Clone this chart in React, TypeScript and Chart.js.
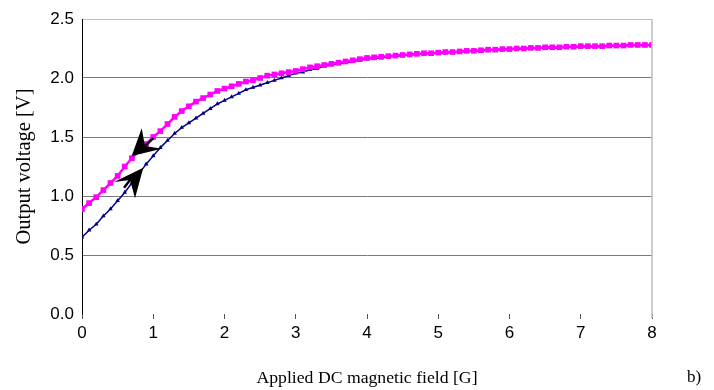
import React, { useEffect, useRef } from "react";
import { Chart, registerables } from "chart.js";

Chart.register(...registerables);

const fieldG = [
  0, 0.1, 0.2, 0.3, 0.4, 0.5, 0.6, 0.7, 0.8, 0.9,
  1, 1.1, 1.2, 1.3, 1.4, 1.5, 1.6, 1.7, 1.8, 1.9,
  2, 2.1, 2.2, 2.3, 2.4, 2.5, 2.6, 2.7, 2.8, 2.9,
  3, 3.1, 3.2, 3.3, 3.4, 3.5, 3.6, 3.7, 3.8, 3.9,
  4, 4.1, 4.2, 4.3, 4.4, 4.5, 4.6, 4.7, 4.8, 4.9,
  5, 5.1, 5.2, 5.3, 5.4, 5.5, 5.6, 5.7, 5.8, 5.9,
  6, 6.1, 6.2, 6.3, 6.4, 6.5, 6.6, 6.7, 6.8, 6.9,
  7, 7.1, 7.2, 7.3, 7.4, 7.5, 7.6, 7.7, 7.8, 7.9,
  8,
];

// decreasing field sweep (upper, magenta)
const downSweepV = [
  0.89, 0.94, 0.99, 1.05, 1.11, 1.17, 1.25, 1.32, 1.38, 1.44,
  1.5, 1.55, 1.61, 1.67, 1.72, 1.76, 1.8, 1.83, 1.86, 1.89,
  1.91, 1.93, 1.95, 1.97, 1.98, 2.0, 2.02, 2.03, 2.04, 2.05,
  2.06, 2.075, 2.09, 2.1, 2.11, 2.12, 2.13, 2.14, 2.15, 2.16,
  2.17, 2.175, 2.18, 2.185, 2.19, 2.195, 2.2, 2.205, 2.21, 2.21,
  2.215, 2.22, 2.22, 2.225, 2.23, 2.23, 2.235, 2.24, 2.24, 2.245,
  2.245, 2.25, 2.25, 2.255, 2.255, 2.26, 2.26, 2.26, 2.265, 2.265,
  2.27, 2.27, 2.27, 2.27, 2.275, 2.275, 2.275, 2.28, 2.28, 2.28,
  2.28,
];

// increasing field sweep (lower, navy)
const upSweepV = [
  0.65, 0.71, 0.76, 0.83, 0.89, 0.96, 1.03, 1.11, 1.19, 1.27,
  1.34, 1.41, 1.47, 1.53, 1.58, 1.62, 1.66, 1.7, 1.74, 1.78,
  1.81, 1.84, 1.87, 1.9, 1.92, 1.94, 1.96, 1.98, 2.0, 2.02,
  2.04, 2.05, 2.07, 2.08, 2.1, 2.11, 2.12, 2.13, 2.14, 2.15,
  2.16, 2.165, 2.17, 2.18, 2.185, 2.19, 2.195, 2.2, 2.205, 2.205,
  2.21, 2.215, 2.215, 2.22, 2.225, 2.225, 2.23, 2.235, 2.235, 2.24,
  2.24, 2.245, 2.245, 2.25, 2.25, 2.255, 2.255, 2.255, 2.26, 2.26,
  2.265, 2.265, 2.265, 2.265, 2.27, 2.27, 2.27, 2.275, 2.275, 2.275,
  2.275,
];

const xTicks = [0, 1, 2, 3, 4, 5, 6, 7, 8];
const yTicks = [0, 0.5, 1, 1.5, 2, 2.5];

// arrow annotations, in data coordinates [field, voltage]
const arrowDown = { tip: [0.697, 1.339], barbA: [0.838, 1.575], notch: [0.884, 1.424], barbB: [1.12, 1.40], tail: [1.0, 1.49] };
const arrowUp = { tip: [0.86, 1.24], barbA: [0.45, 1.118], notch: [0.674, 1.136], barbB: [0.744, 0.98], tail: [0.59, 1.07] };

const extrasPlugin = {
  id: "extras",
  afterDatasetsDraw(chart: any) {
    const { ctx, chartArea, scales } = chart;
    const xs = scales.x;
    const ys = scales.y;
    const P = (p: number[]) => [xs.getPixelForValue(p[0]), ys.getPixelForValue(p[1])];
    ctx.save();
    // right border
    ctx.strokeStyle = "#bdbdbd";
    ctx.lineWidth = 1.5;
    ctx.beginPath();
    ctx.moveTo(chartArea.right, chartArea.top);
    ctx.lineTo(chartArea.right, chartArea.bottom + 4);
    ctx.stroke();
    // arrows
    [arrowDown, arrowUp].forEach((a) => {
      const t = P(a.tip), b1 = P(a.barbA), n = P(a.notch), b2 = P(a.barbB), tl = P(a.tail);
      ctx.fillStyle = "#000";
      ctx.beginPath();
      ctx.moveTo(t[0], t[1]);
      ctx.lineTo(b1[0], b1[1]);
      ctx.lineTo(n[0], n[1]);
      ctx.lineTo(b2[0], b2[1]);
      ctx.closePath();
      ctx.fill();
      ctx.strokeStyle = "#000";
      ctx.lineWidth = 2.5;
      ctx.beginPath();
      ctx.moveTo(n[0], n[1]);
      ctx.lineTo(tl[0], tl[1]);
      ctx.stroke();
    });
    // panel label
    ctx.fillStyle = "#000";
    ctx.font = "17px 'Liberation Serif'";
    ctx.textAlign = "center";
    ctx.textBaseline = "middle";
    ctx.fillText("b)", 694, 378);
    ctx.restore();
  },
};

export default function App() {
  const ref = useRef<HTMLCanvasElement | null>(null);
  useEffect(() => {
    if (!ref.current) return;
    const chart = new Chart(ref.current, {
      type: "line",
      data: {
        datasets: [
          {
            label: "decreasing",
            data: fieldG.map((x, i) => ({ x, y: downSweepV[i] })),
            borderColor: "#ff00ff",
            backgroundColor: "#ff00ff",
            borderWidth: 2.5,
            pointStyle: "rect",
            pointRadius: 4,
            pointBorderWidth: 0,
            pointHoverRadius: 4,
          },
          {
            label: "increasing",
            data: fieldG.map((x, i) => ({ x, y: upSweepV[i] })),
            borderColor: "#000080",
            backgroundColor: "#000080",
            borderWidth: 1.5,
            pointStyle: "triangle",
            pointRadius: 2.6,
            pointBorderWidth: 0,
            pointHoverRadius: 2.6,
          },
        ],
      },
      options: {
        animation: false,
        responsive: false,
        layout: { padding: { left: 0, right: 62, top: 19, bottom: 0 } },
        plugins: { legend: { display: false }, tooltip: { enabled: false } },
        scales: {
          x: {
            type: "linear",
            min: 0,
            max: 8,
            afterBuildTicks: (s: any) => { s.ticks = xTicks.map((v) => ({ value: v })); },
            afterFit: (s: any) => { s.height = 76; },
            ticks: {
              color: "#000",
              font: { family: "'Liberation Sans'", size: 17 },
              padding: 4,
              maxRotation: 0,
              callback: (v: any) => String(v),
            },
            grid: { drawOnChartArea: false, color: "#555", tickLength: 5, lineWidth: 1 },
            border: { display: false },
            title: {
              display: true,
              text: "Applied DC magnetic field [G]",
              color: "#000",
              font: { family: "'Liberation Serif'", size: 17.7 },
              padding: { top: 0, bottom: 1 },
            },
          },
          y: {
            min: 0,
            max: 2.5,
            afterBuildTicks: (s: any) => { s.ticks = yTicks.map((v) => ({ value: v })); },
            afterFit: (s: any) => { s.width = 82; },
            ticks: {
              color: "#000",
              font: { family: "'Liberation Sans'", size: 17 },
              padding: 8,
              callback: (v: any) => Number(v).toFixed(1),
            },
            grid: {
              drawTicks: false,
              color: (c: any) => (c.tick && c.tick.value === 0 ? "rgba(0,0,0,0)" : c.tick && c.tick.value === 2.5 ? "#bdbdbd" : "#7a7a7a"),
              lineWidth: 1,
            },
            border: { display: true, color: "#000", width: 1 },
            title: {
              display: true,
              text: "Output voltage [V]",
              color: "#000",
              font: { family: "'Liberation Serif'", size: 20.5 },
              padding: { top: 12, bottom: 0 },
            },
          },
        },
      },
      plugins: [extrasPlugin],
    } as any);
    return () => chart.destroy();
  }, []);
  return (
    <div style={{ position: "fixed", left: 0, top: 0, width: 714, height: 390, background: "#fff" }}>
      <canvas ref={ref} width={714} height={390} style={{ width: 714, height: 390 }} />
    </div>
  );
}
